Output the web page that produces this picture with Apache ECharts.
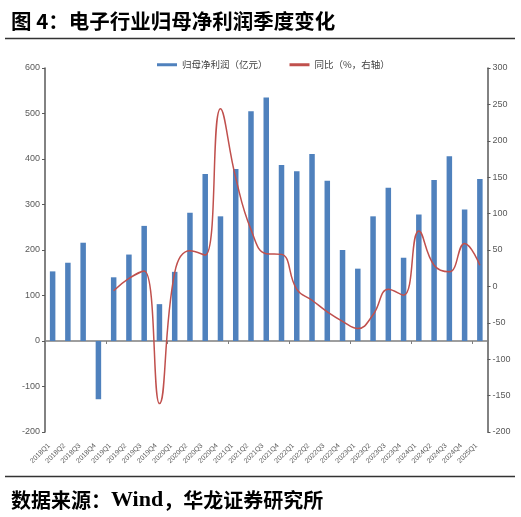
<!DOCTYPE html>
<html>
<head>
<meta charset="utf-8">
<script src="https://cdn.jsdelivr.net/npm/echarts@6/dist/echarts.min.js"></script>
<style>
html,body{margin:0;padding:0;background:#fff;}
#c{width:521px;height:517px;}
</style>
</head>
<body>
<div id="c"></div>
<script>
const categories = ['2018Q1','2018Q2','2018Q3','2018Q4','2019Q1','2019Q2','2019Q3','2019Q4','2020Q1','2020Q2','2020Q3','2020Q4','2021Q1','2021Q2','2021Q3','2021Q4','2022Q1','2022Q2','2022Q3','2022Q4','2023Q1','2023Q2','2023Q3','2023Q4','2024Q1','2024Q2','2024Q3','2024Q4','2025Q1'];
const profit = [153,172,216,-128,140,190,253,81,152,282,367,274,378,505,535,387,373,411,352,200,159,274,337,183,278,354,406,289,356];
const yoy = [null,null,null,null,-6,11,21,-161,19,49,43,244,149,78,45,44,-4,-19,-35,-48,-58,-39,-4,-12,76,29,20,59,29];
const leftTicks = {min:-200, max:600, interval:100};
const rightTicks = {min:-200, max:300, interval:50};
const seriesNames = ['归母净利润（亿元）','同比（%，右轴）'];

const chart = echarts.init(document.getElementById('c'), null, {renderer:'canvas'});
const cjk = 'Noto Sans CJK SC';
const axisColor = '#595959';
chart.setOption({
  animation:false,
  backgroundColor:'#fff',
  textStyle:{fontFamily:'Liberation Sans, Arial, ' + cjk},
  title:[
    {text:'图 4：电子行业归母净利润季度变化', left:6, top:6,
     textStyle:{fontFamily:cjk, fontSize:20.5, fontWeight:'bold', color:'#000'}},
    {text:'{a|数据来源：}{w|Wind}{a|，华龙证券研究所}', left:6, top:484,
     textStyle:{rich:{
       a:{fontFamily:cjk, fontSize:20, fontWeight:'bold', color:'#000'},
       w:{fontFamily:'Liberation Serif', fontSize:22, fontWeight:'bold', color:'#000'}
     }}}
  ],
  graphic:[
    {type:'line', shape:{x1:5,y1:38.5,x2:515,y2:38.5}, style:{stroke:'#333',lineWidth:1.3}},
    {type:'line', shape:{x1:5,y1:476.5,x2:515,y2:476.5}, style:{stroke:'#333',lineWidth:1.3}}
  ],
  legend:{
    left:152, top:55, itemWidth:20, itemHeight:3, itemGap:22,
    textStyle:{fontFamily:cjk, fontSize:9.5, color:'#404040'},
    data:[{name:seriesNames[0], icon:'rect'},{name:seriesNames[1], icon:'rect'}]
  },
  grid:{left:45, right:33.5, top:68, bottom:85, containLabel:false},
  xAxis:[
    {type:'category', data:categories, position:'bottom',
     axisLine:{show:false, onZero:false}, axisTick:{show:false},
     axisLabel:{interval:0, rotate:45, fontSize:7, color:axisColor, margin:9, padding:[0,5,0,0]}},
    {type:'category', data:categories, position:'bottom',
     axisLine:{show:true, onZero:true, onZeroAxisIndex:0, lineStyle:{color:'#7f7f7f', width:1.5}},
     axisTick:{show:true, length:3, lineStyle:{color:'#7f7f7f'}},
     axisLabel:{show:false}}
  ],
  yAxis:[
    {type:'value', position:'left', min:leftTicks.min, max:leftTicks.max, interval:leftTicks.interval,
     axisLine:{show:true, lineStyle:{color:axisColor, width:1.5}},
     axisTick:{show:true, length:3, lineStyle:{color:axisColor}},
     splitLine:{show:false},
     axisLabel:{fontSize:9, color:axisColor, margin:5}},
    {type:'value', position:'right', min:rightTicks.min, max:rightTicks.max, interval:rightTicks.interval,
     axisLine:{show:true, lineStyle:{color:axisColor, width:1.5}},
     axisTick:{show:true, length:3, lineStyle:{color:axisColor}},
     splitLine:{show:false},
     axisLabel:{fontSize:9, color:axisColor, margin:5}}
  ],
  series:[
    {name:seriesNames[0], type:'bar', data:profit, xAxisIndex:0, yAxisIndex:0, barWidth:5.5,
     itemStyle:{color:'#4F81BD'}},
    {name:seriesNames[1], type:'line', data:yoy, xAxisIndex:0, yAxisIndex:1, smooth:0.45,
     symbol:'none', lineStyle:{color:'#C0504D', width:1.5}, itemStyle:{color:'#C0504D'}}
  ]
});
</script>
</body>
</html>
